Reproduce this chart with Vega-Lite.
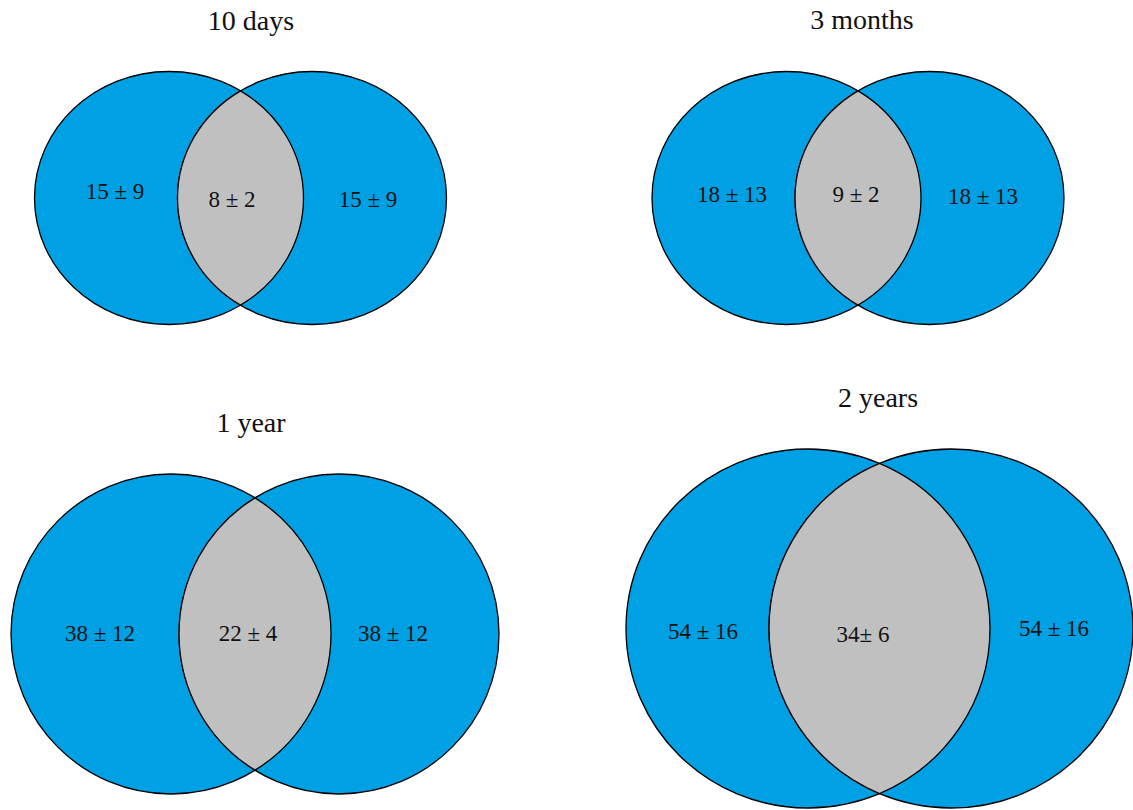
{
  "$schema": "https://vega.github.io/schema/vega-lite/v6.json",
  "width": 1133,
  "height": 810,
  "autosize": "none",
  "padding": 0,
  "background": "white",
  "config": {"view": {"stroke": null}},
  "datasets": {
    "regions": [
      {"panel": "10 days", "region": "A", "x": 169, "y": 198, "label": "15 ± 9", "lx": 115, "ly": 192},
      {"panel": "10 days", "region": "B", "x": 312, "y": 198, "label": "15 ± 9", "lx": 368, "ly": 200},
      {"panel": "10 days", "region": "AB", "x": 240.5, "y": 198, "label": "8 ± 2", "lx": 232, "ly": 200},
      {"panel": "3 months", "region": "A", "x": 786.5, "y": 198, "label": "18 ± 13", "lx": 732, "ly": 195},
      {"panel": "3 months", "region": "B", "x": 929.5, "y": 198, "label": "18 ± 13", "lx": 983, "ly": 197},
      {"panel": "3 months", "region": "AB", "x": 858, "y": 198, "label": "9 ± 2", "lx": 856, "ly": 195},
      {"panel": "1 year", "region": "A", "x": 171, "y": 634, "label": "38 ± 12", "lx": 100, "ly": 634},
      {"panel": "1 year", "region": "B", "x": 339, "y": 634, "label": "38 ± 12", "lx": 393, "ly": 634},
      {"panel": "1 year", "region": "AB", "x": 255, "y": 634, "label": "22 ± 4", "lx": 248, "ly": 634},
      {"panel": "2 years", "region": "A", "x": 808, "y": 628.5, "label": "54 ± 16", "lx": 703, "ly": 632},
      {"panel": "2 years", "region": "B", "x": 951, "y": 628.5, "label": "54 ± 16", "lx": 1054, "ly": 629},
      {"panel": "2 years", "region": "AB", "x": 879.5, "y": 628.5, "label": "34± 6", "lx": 863, "ly": 635}
    ],
    "titles": [
      {"panel": "10 days", "x": 251, "y": 22},
      {"panel": "3 months", "x": 862, "y": 21},
      {"panel": "1 year", "x": 251, "y": 424},
      {"panel": "2 years", "x": 878, "y": 399}
    ]
  },
  "data": {"name": "regions"},
  "encoding": {
    "x": {"field": "x", "type": "quantitative", "scale": {"domain": [0, 1133], "nice": false, "zero": false}, "axis": null},
    "y": {"field": "y", "type": "quantitative", "scale": {"domain": [0, 810], "nice": false, "zero": false, "reverse": true}, "axis": null}
  },
  "layer": [
    {
      "transform": [{"filter": {"and": [{"field": "panel", "oneOf": ["10 days", "3 months"]}, {"field": "region", "oneOf": ["A", "B"]}]}}],
      "mark": {"type": "point", "filled": true, "opacity": 1, "fill": "#00A1E4", "stroke": "#000000", "strokeWidth": 1.3, "strokeOpacity": 1, "fillOpacity": 1,
        "shape": "M -1 0 A 1 0.9405 0 1 1 1 0 A 1 0.9405 0 1 1 -1 0 Z", "size": 72361}
    },
    {
      "transform": [{"filter": {"and": [{"field": "panel", "oneOf": ["10 days", "3 months"]}, {"field": "region", "equal": "AB"}]}}],
      "mark": {"type": "point", "filled": true, "opacity": 1, "fill": "#C0C0C0", "stroke": "#000000", "strokeWidth": 1.3, "strokeOpacity": 1, "fillOpacity": 1,
        "shape": "M 0 -0.7966 A 1 0.9405 0 0 1 0 0.7966 A 1 0.9405 0 0 1 0 -0.7966 Z", "size": 72361}
    },
    {
      "transform": [{"filter": {"and": [{"field": "panel", "equal": "1 year"}, {"field": "region", "oneOf": ["A", "B"]}]}}],
      "mark": {"type": "point", "filled": true, "opacity": 1, "fill": "#00A1E4", "stroke": "#000000", "strokeWidth": 1.3, "strokeOpacity": 1, "fillOpacity": 1,
        "shape": "M -1 0 A 1 1 0 1 1 1 0 A 1 1 0 1 1 -1 0 Z", "size": 102400}
    },
    {
      "transform": [{"filter": {"and": [{"field": "panel", "equal": "1 year"}, {"field": "region", "equal": "AB"}]}}],
      "mark": {"type": "point", "filled": true, "opacity": 1, "fill": "#C0C0C0", "stroke": "#000000", "strokeWidth": 1.3, "strokeOpacity": 1, "fillOpacity": 1,
        "shape": "M 0 -0.8511 A 1 1 0 0 1 0 0.8511 A 1 1 0 0 1 0 -0.8511 Z", "size": 102400}
    },
    {
      "transform": [{"filter": {"and": [{"field": "panel", "equal": "2 years"}, {"field": "region", "oneOf": ["A", "B"]}]}}],
      "mark": {"type": "point", "filled": true, "opacity": 1, "fill": "#00A1E4", "stroke": "#000000", "strokeWidth": 1.3, "strokeOpacity": 1, "fillOpacity": 1,
        "shape": "M -1 0 A 1 0.9863 0 1 1 1 0 A 1 0.9863 0 1 1 -1 0 Z", "size": 132496}
    },
    {
      "transform": [{"filter": {"and": [{"field": "panel", "equal": "2 years"}, {"field": "region", "equal": "AB"}]}}],
      "mark": {"type": "point", "filled": true, "opacity": 1, "fill": "#C0C0C0", "stroke": "#000000", "strokeWidth": 1.3, "strokeOpacity": 1, "fillOpacity": 1,
        "shape": "M 0 -0.907 A 1 0.9863 0 0 1 0 0.907 A 1 0.9863 0 0 1 0 -0.907 Z", "size": 132496}
    },
    {
      "mark": {"type": "text", "font": "Liberation Serif", "fontSize": 23, "baseline": "middle", "align": "center", "color": "#111111"},
      "encoding": {
        "x": {"field": "lx", "type": "quantitative"},
        "y": {"field": "ly", "type": "quantitative"},
        "text": {"field": "label", "type": "nominal"}
      }
    },
    {
      "data": {"name": "titles"},
      "mark": {"type": "text", "font": "Liberation Serif", "fontSize": 28, "baseline": "middle", "align": "center", "color": "#111111"},
      "encoding": {
        "text": {"field": "panel", "type": "nominal"}
      }
    }
  ]
}
